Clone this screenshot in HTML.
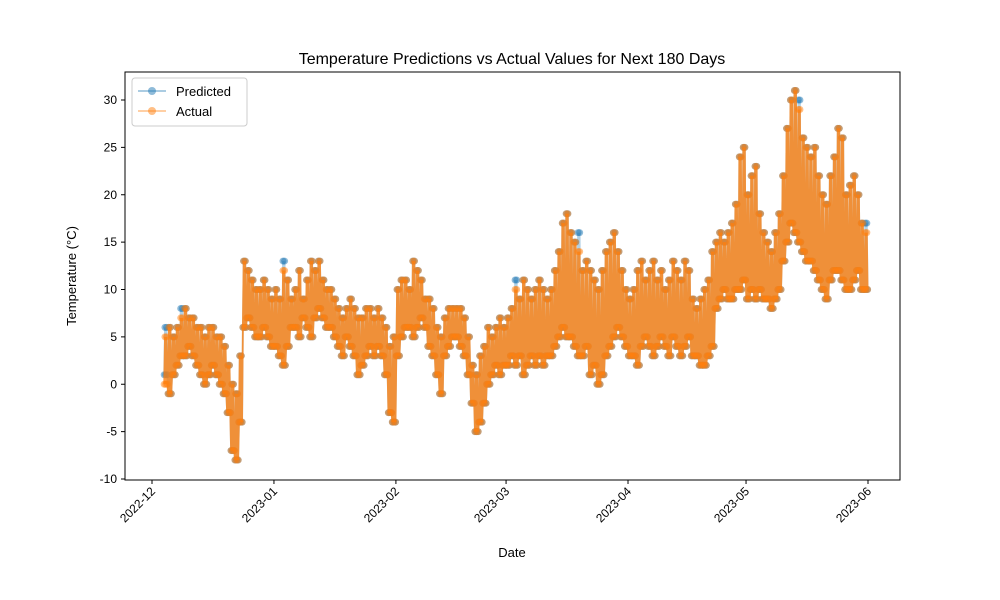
<!DOCTYPE html>
<html><head><meta charset="utf-8"><style>
body{margin:0;background:#fff}
svg{display:block;font-family:"Liberation Sans","DejaVu Sans",sans-serif}
</style></head><body>
<svg id="chart" width="1000" height="600">
<rect x="0" y="0" width="1000" height="600" fill="#fff"/>
<text x="512" y="64" text-anchor="middle" font-size="16">Temperature Predictions vs Actual Values for Next 180 Days</text>
<g id="plot"></g>
<rect x="125" y="72" width="775" height="408" fill="none" stroke="#000" stroke-width="1"/>
<g id="xt"></g>
<g id="yt"></g>
<text x="512" y="557" text-anchor="middle" font-size="13">Date</text>
<text transform="translate(76,276) rotate(-90)" text-anchor="middle" font-size="13">Temperature (°C)</text>
<g>
<rect x="132" y="78" width="115" height="48" rx="3" fill="#fff" fill-opacity="0.8" stroke="#ccc"/>
<g>
<line x1="138" y1="91" x2="166" y2="91" stroke="#1f77b4" stroke-opacity="0.5" stroke-width="1.5"/>
<circle cx="152" cy="91" r="4" fill="#1f77b4" fill-opacity="0.5"/>
<text x="176" y="96" font-size="13">Predicted</text></g>
<g>
<line x1="138" y1="111" x2="166" y2="111" stroke="#ff7f0e" stroke-opacity="0.5" stroke-width="1.5"/>
<circle cx="152" cy="111" r="4" fill="#ff7f0e" fill-opacity="0.5"/>
<text x="176" y="116" font-size="13">Actual</text></g>
</g>
</svg>
<script>
const xTickLabels = ["2022-12","2023-01","2023-02","2023-03","2023-04","2023-05","2023-06"];
const xTickDays = [0,31,62,90,121,151,182];
const yTicks = [-10,-5,0,5,10,15,20,25,30];
const startDay = 3; // Dec 4 offset from Dec 1
const actualLo = [0,-1,1,2,3,3,4,3,2,1,0,1,2,1,0,-1,-3,-7,-8,-4,6,7,6,5,5,6,5,4,
4,3,2,4,6,6,5,7,6,5,7,8,7,6,6,5,4,3,5,4,3,1,2,3,4,3,4,3,1,-3,-4,
3,5,6,6,5,6,7,6,4,3,1,-1,3,4,5,5,4,3,1,-2,-5,-4,-2,0,1,2,1,2,
2,3,2,3,1,2,3,2,3,2,3,3,4,5,6,5,5,4,3,3,4,1,2,0,1,3,4,5,6,5,4,
3,3,2,4,5,4,3,4,5,4,3,5,4,3,4,5,3,3,2,2,3,4,8,9,10,9,9,10,10,11,
9,10,9,10,9,9,8,9,10,13,15,17,16,15,14,13,13,12,11,10,9,11,12,12,11,10,10,11,12,10,10];
const actualHi = [5,6,5,6,7,8,7,7,6,6,5,6,6,5,5,4,2,0,-1,3,13,12,11,10,10,11,10,9,
10,9,12,11,9,10,12,9,11,13,12,13,11,10,10,9,8,7,8,9,8,7,7,8,8,7,8,7,6,4,5,
10,11,11,10,13,12,11,9,9,8,6,5,7,8,8,8,8,7,5,2,1,3,4,6,5,6,7,6,
7,8,10,9,11,10,9,10,11,10,9,10,12,14,17,18,16,15,14,12,13,12,11,10,12,14,15,16,14,12,10,
9,10,12,13,11,12,13,11,12,10,11,13,12,11,13,12,9,8,9,10,11,14,15,16,15,16,17,19,24,25,
20,22,23,18,16,15,14,16,18,22,27,30,31,29,26,25,24,25,22,20,19,22,24,27,26,20,21,22,20,17,16];
const predLo = [1,-1,1,2,3,3,4,3,2,1,0,1,2,1,0,-1,-3,-7,-8,-4,6,7,6,5,5,6,5,4,
4,3,2,4,6,6,5,7,6,5,7,8,7,6,6,5,4,3,5,4,3,1,2,3,4,3,4,3,1,-3,-4,
3,5,6,6,5,6,7,6,4,3,1,-1,3,4,5,5,4,3,1,-2,-5,-4,-2,0,1,2,1,2,
2,3,2,3,1,2,3,2,3,2,3,3,4,5,6,5,5,4,3,3,4,1,2,0,1,3,4,5,6,5,4,
3,3,2,4,5,4,3,4,5,4,3,5,4,3,4,5,3,3,2,2,3,4,8,9,10,9,9,10,10,11,
9,10,9,10,9,9,8,9,10,13,15,17,16,15,14,13,13,12,11,10,9,11,12,12,11,10,10,11,12,10,10];
const predHi = [6,6,5,6,8,8,7,7,6,6,5,6,6,5,5,4,2,0,-1,3,13,12,11,10,10,11,10,9,
10,9,13,11,9,10,12,9,11,13,12,13,11,10,10,9,8,7,8,9,8,7,7,8,8,7,8,7,6,4,5,
10,11,11,10,13,12,11,9,9,8,6,5,7,8,8,8,8,7,5,2,1,3,4,6,5,6,7,6,
7,8,11,9,11,10,9,10,11,10,9,10,12,14,17,18,16,15,16,12,13,12,11,10,12,14,15,16,14,12,10,
9,10,12,13,11,12,13,11,12,10,11,13,12,11,13,12,9,8,9,10,11,14,15,16,15,16,17,19,24,25,
20,22,23,18,16,15,14,16,18,22,27,30,31,30,26,25,24,25,22,20,19,22,24,27,26,20,21,22,20,17,17];

const NS="http://www.w3.org/2000/svg";
function xs(d){return 152 + d*3.934;}
function ys(v){return 479 - (v+10)*9.475;}
const xt=document.getElementById('xt'), yt=document.getElementById('yt'), plot=document.getElementById('plot');
function mk(tag,attrs,parent){const e=document.createElementNS(NS,tag);for(const k in attrs)e.setAttribute(k,attrs[k]);parent.appendChild(e);return e;}
xTickLabels.forEach((lab,i)=>{
  const x=xs(xTickDays[i]);
  const g=mk('g',{},xt);
  
  
  mk('line',{x1:x,y1:480,x2:x,y2:484,stroke:'#000'},g);
  const t=mk('text',{transform:`translate(${x+4},${492}) rotate(-45)`,'text-anchor':'end','font-size':'12'},g);
  t.textContent=lab;
});
yTicks.forEach(v=>{
  const y=ys(v);
  const g=mk('g',{},yt);
  
  
  mk('line',{x1:121,y1:y,x2:125,y2:y,stroke:'#000'},g);
  const t=mk('text',{x:117,y:y+4,'text-anchor':'end','font-size':'12'},g);
  t.textContent=v;
});
function series(lo,hi,color,name,lineOp){
  const g=mk('g',{},plot);
  
  
  const pts=[];
  const offs=[0.1,0.3,0.5,0.7,0.9];
  for(let i=0;i<lo.length;i++){
    offs.forEach((o,k)=>{
      pts.push([xs(startDay+i+o),ys(k%2===0?lo[i]:hi[i])]);
    });
  }
  mk('polyline',{points:pts.map(p=>p.join(',')).join(' '),fill:'none',stroke:color,'stroke-opacity':lineOp,'stroke-width':1.8},g);
  pts.forEach(p=>{
    const c=mk('circle',{cx:p[0],cy:p[1],r:3.5,fill:color,'fill-opacity':0.5},g);
    
    
  });
}
series(predLo,predHi,'#1f77b4','predicted-series',0.35);
series(actualLo,actualHi,'#ff7f0e','actual-series',0.8);
</script>
</body></html>
